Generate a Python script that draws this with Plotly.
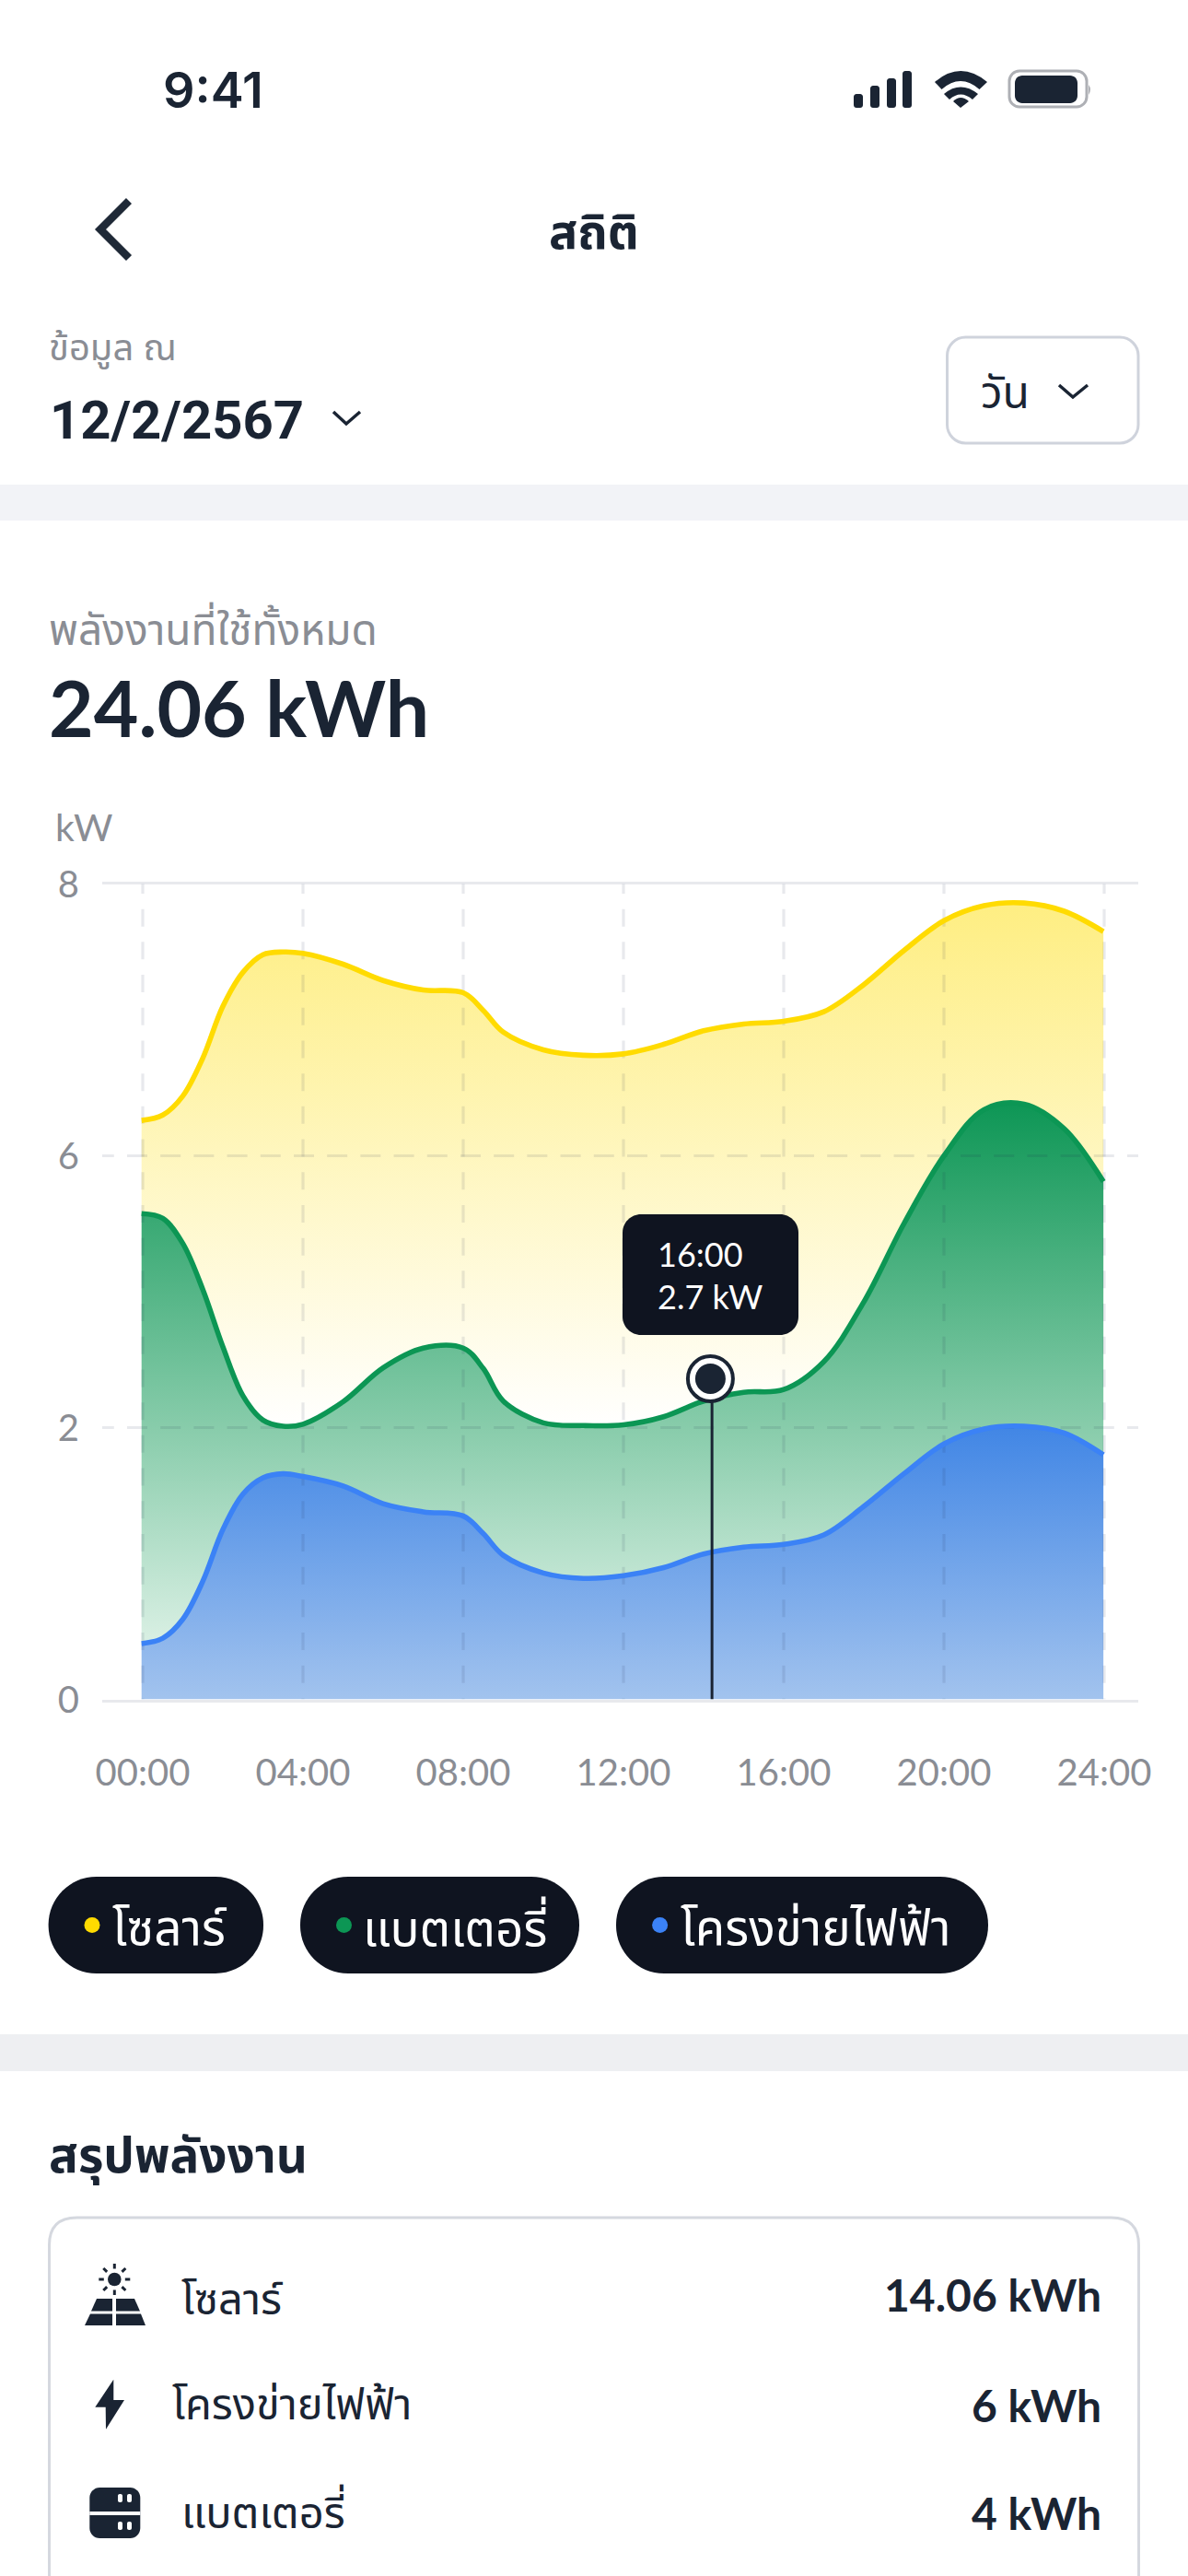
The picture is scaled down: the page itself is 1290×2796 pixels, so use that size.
import numpy as np
import plotly.graph_objects as go

W, H = 1290, 2796
FONT = "Lato, 'Noto Sans Thai', 'Noto Sans', sans-serif"
DARK = "#1A2433"
GRAY = "#8A8D94"
PILL = "#0F1420"
GRID = "rgba(26,36,80,0.1)"

hours = [-0.03, 0.5, 1, 1.5, 2, 2.5, 3, 3.5, 4, 5, 6, 7, 8, 8.5, 9, 10, 11, 12, 13, 14, 15, 16,
         17, 18, 19, 20, 21, 22, 23, 23.98]
solar = [6.26, 6.30, 6.44, 6.72, 7.10, 7.35, 7.48, 7.50, 7.49, 7.41, 7.29, 7.22, 7.20, 7.07,
         6.91, 6.78, 6.74, 6.75, 6.82, 6.92, 6.97, 6.99, 7.06, 7.26, 7.51, 7.73, 7.84, 7.86,
         7.80, 7.65]
battery = [5.15, 5.08, 4.71, 4.03, 3.19, 2.47, 2.11, 2.02, 2.05, 2.38, 2.88, 3.17, 3.17, 2.87,
           2.39, 2.07, 2.03, 2.04, 2.16, 2.39, 2.52, 2.56, 2.97, 3.85, 5.00, 6.00, 6.34, 6.38,
           6.20, 5.62]
grid_power = [0.41, 0.45, 0.59, 0.87, 1.25, 1.51, 1.63, 1.66, 1.64, 1.57, 1.44, 1.38, 1.35, 1.22,
              1.06, 0.93, 0.89, 0.91, 0.97, 1.07, 1.12, 1.14, 1.21, 1.42, 1.66, 1.88, 1.99, 2.02,
              1.96, 1.80]

x_ticks = [0, 4, 8, 12, 16, 20, 24]
x_labels = ["00:00", "04:00", "08:00", "12:00", "16:00", "20:00", "24:00"]
# the y axis is not linear: its labels are evenly spaced
y_ticks = [0, 2, 6, 8]
y_positions = [0, 1, 2, 3]

tooltip_hour = 14.17
tooltip_value = 2.72
tooltip_time = "16:00"
tooltip_label = "2.7 kW"

legend_names = ["โซลาร์", "แบตเตอรี่", "โครงข่ายไฟฟ้า"]
summary_names = ["โซลาร์", "โครงข่ายไฟฟ้า", "แบตเตอรี่"]
summary_values = ["14.06 kWh", "6 kWh", "4 kWh"]

YELLOW, GREEN, BLUE = "#FFDB00", "#0C9654", "#3B82F6"


def ypos(kw):
    return np.interp(kw, y_ticks, y_positions)


def fx(x):
    return x / W


def fy(y):
    return 1 - y / H


def pts(cmds):
    # cmds are (letter, x, y, x, y...) in screen pixels, turned into paper fractions
    out = []
    for c in cmds:
        nums = c[1:]
        pairs = [f"{fx(nums[i]):.5f},{fy(nums[i + 1]):.5f}" for i in range(0, len(nums), 2)]
        out.append(c[0] + " ".join(pairs))
    return " ".join(out)


def rrect(x0, y0, x1, y1, r, open_bottom=False):
    if open_bottom:
        return pts([("M", x0, y1), ("L", x0, y0 + r), ("Q", x0, y0, x0 + r, y0), ("L", x1 - r, y0),
                    ("Q", x1, y0, x1, y0 + r), ("L", x1, y1)])
    k = 0.45 * r
    return pts([("M", x0 + r, y0), ("L", x1 - r, y0), ("C", x1 - k, y0, x1, y0 + k, x1, y0 + r),
                ("L", x1, y1 - r), ("C", x1, y1 - k, x1 - k, y1, x1 - r, y1), ("L", x0 + r, y1),
                ("C", x0 + k, y1, x0, y1 - k, x0, y1 - r), ("L", x0, y0 + r),
                ("C", x0, y0 + k, x0 + k, y0, x0 + r, y0)]) + " Z"


shapes = []
annotations = []


def solid(path, color=DARK):
    shapes.append(dict(type="path", path=path, xref="paper", yref="paper", fillcolor=color,
                       line=dict(width=0), layer="above"))


def stroke(path, color=DARK, width=3, fill="rgba(0,0,0,0)"):
    shapes.append(dict(type="path", path=path, xref="paper", yref="paper", fillcolor=fill,
                       line=dict(color=color, width=width), layer="above"))


def label(text, x, y, size, color=DARK, anchor="left", weight=400, family=FONT):
    annotations.append(dict(text=text, x=fx(x), y=fy(y), xref="paper", yref="paper", xanchor=anchor,
                            yanchor="middle", showarrow=False,
                            font=dict(family=family, size=size, color=color, weight=weight)))


fig = go.Figure()

# fills first, then the grid over them, then the lines
fills = [
    (grid_power, "tozeroy", 2.02, 0, "#4186E5", "#A2C3EE"),
    (battery, "tonexty", 6.4, 0.4, "#0D9655", "#DAF0E4"),
    (solar, "tonexty", 7.86, 2.0, "#FEEE82", "#FFFFFF"),
]
for values, mode, top, bottom, c0, c1 in fills:
    fig.add_trace(go.Scatter(
        x=hours, y=ypos(values), mode="lines", fill=mode, hoverinfo="skip",
        line=dict(width=0, shape="spline", smoothing=1.0),
        fillgradient=dict(type="vertical", start=float(ypos(top)), stop=float(ypos(bottom)),
                          colorscale=[[0, c0], [1, c1]]),
    ))

grid_x, grid_y = [], []
for t in x_ticks:
    grid_x += [t, t, None]
    grid_y += [3.029, 0, None]
fig.add_trace(go.Scatter(x=grid_x, y=grid_y, mode="lines", hoverinfo="skip",
                         line=dict(color=GRID, width=3.2, dash="19px,16.7px")))
grid_x, grid_y = [], []
for p in [1, 2]:
    grid_x += [25.08, -2, None]
    grid_y += [p, p, None]
fig.add_trace(go.Scatter(x=grid_x, y=grid_y, mode="lines", hoverinfo="skip",
                         line=dict(color=GRID, width=3, dash="22px,14.2px")))

for values, color in [(solar, YELLOW), (battery, GREEN), (grid_power, BLUE)]:
    fig.add_trace(go.Scatter(x=hours, y=ypos(values), mode="lines", hoverinfo="skip",
                             line=dict(color=color, width=5.6, shape="spline", smoothing=1.0)))

fig.add_trace(go.Scatter(x=[tooltip_hour + 0.04] * 2, y=[0, ypos(tooltip_value)], mode="lines",
                         hoverinfo="skip", line=dict(color=DARK, width=3)))
fig.add_trace(go.Scatter(x=[tooltip_hour], y=[ypos(tooltip_value)], mode="markers", hoverinfo="skip",
                         marker=dict(size=49, color="white", line=dict(color=DARK, width=4))))
fig.add_trace(go.Scatter(x=[tooltip_hour], y=[ypos(tooltip_value)], mode="markers", hoverinfo="skip",
                         marker=dict(size=33, color=DARK)))

# tooltip
solid(rrect(676, 1318, 867, 1449, 20), PILL)
label(tooltip_time, 712, 1361, 36, "white")
label(tooltip_label, 712, 1407, 36, "white")

# status bar
label("9:41", 175, 97, 54, DARK, weight=600, family="Inter")
for x0, y0 in [(927, 102), (945, 93), (963, 85), (980, 77)]:
    solid(rrect(x0, y0, x0 + 10, 117, 3))
solid(pts([("M", 1015, 89), ("Q", 1043, 65, 1072, 89), ("L", 1063.5, 97), ("Q", 1043, 79, 1022.5, 97)]) + " Z")
solid(pts([("M", 1025, 102), ("Q", 1043, 87, 1062, 102), ("L", 1056, 108), ("Q", 1043, 97, 1031, 108)]) + " Z")
solid(pts([("M", 1035, 110), ("Q", 1043, 102, 1052, 110), ("L", 1043, 117)]) + " Z")
stroke(rrect(1096, 77, 1180, 116, 11), "#AEB0B5", 3)
solid(rrect(1102, 82, 1170, 112, 8))
solid(pts([("M", 1182, 92), ("Q", 1186, 97, 1182, 103)]) + " Z", "#AEB0B5")

# header
stroke(pts([("M", 140, 218), ("L", 109, 249), ("L", 140, 280)]), "#1F2937", 8.5)
label("สถิติ", 645, 250, 52, DARK, "center", 700)
label("ข้อมูล ณ", 51, 377, 40, GRAY)
label("12/2/2567", 52, 456, 58, DARK, weight=700, family="Roboto")
stroke(pts([("M", 362, 447), ("L", 376, 460), ("L", 391, 447)]), DARK, 3.5)
stroke(rrect(1028.5, 366, 1236, 481, 20), "#CFD3DC", 3)
label("วัน", 1063, 425, 48)
stroke(pts([("M", 1150, 418), ("L", 1165, 431), ("L", 1181, 418)]), DARK, 3.5)

# section bands
solid(pts([("M", 0, 526), ("L", W, 526), ("L", W, 565), ("L", 0, 565)]) + " Z", "#F2F3F7")
solid(pts([("M", 0, 2208), ("L", W, 2208), ("L", W, 2248), ("L", 0, 2248)]) + " Z", "#EEEFF2")

label("พลังงานที่ใช้ทั้งหมด", 51, 682, 46, GRAY)
label("24.06 kWh", 51, 767, 84, DARK, weight=700)
label("kW", 58, 898, 41, GRAY)

# legend pills
pill_boxes = [(52.6, 286), (326, 629), (669, 1073)]
for (x0, x1), name, color, dot_x, text_x in zip(pill_boxes, legend_names, [YELLOW, GREEN, BLUE],
                                                [100, 373.5, 716.6], [120, 392, 737]):
    solid(rrect(x0, 2037, x1, 2142, 52), PILL)
    shapes.append(dict(type="circle", xref="paper", yref="paper", x0=fx(dot_x - 8.5), x1=fx(dot_x + 8.5),
                       y0=fy(2098), y1=fy(2081), fillcolor=color, line=dict(width=0), layer="above"))
    label(name, text_x, 2090, 53, "white")

# summary
label("สรุปพลังงาน", 51, 2339, 53, DARK, weight=700)
stroke(rrect(53.5, 2407, 1236.5, 2830, 30, open_bottom=True), "#D5D8DF", 3)
for name, value, text_x, y, value_y in zip(summary_names, summary_values, [195, 185, 195],
                                           [2494, 2608, 2725], [2490, 2610, 2727]):
    label(name, text_x, y, 47, DARK)
    label(value, 1198, value_y, 48, DARK, "right", 700)

# solar icon
shapes.append(dict(type="circle", xref="paper", yref="paper", x0=fx(117), x1=fx(131.6),
                   y0=fy(2481.3), y1=fy(2466.7), fillcolor=DARK, line=dict(width=0), layer="above"))
for a in range(8):
    ca, sa = np.cos(a * np.pi / 4), np.sin(a * np.pi / 4)
    stroke(pts([("M", 124.3 + 11.5 * ca, 2474 + 11.5 * sa), ("L", 124.3 + 17 * ca, 2474 + 17 * sa)]), DARK, 3)
solid(pts([("M", 105, 2495), ("L", 122, 2495), ("L", 122, 2508.5), ("L", 99, 2508.5)]) + " Z")
solid(pts([("M", 126, 2495), ("L", 146, 2495), ("L", 152, 2508.5), ("L", 126, 2508.5)]) + " Z")
solid(pts([("M", 98, 2511.5), ("L", 122, 2511.5), ("L", 122, 2524), ("L", 92, 2524)]) + " Z")
solid(pts([("M", 126, 2511.5), ("L", 153, 2511.5), ("L", 158, 2524), ("L", 126, 2524)]) + " Z")

# bolt icon
solid(pts([("M", 123.3, 2582.7), ("L", 103.3, 2612.7), ("L", 114.7, 2612.7), ("L", 115, 2636.7),
           ("L", 135, 2605), ("L", 123.3, 2605)]) + " Z")

# battery icon
solid(rrect(97.3, 2700, 152.3, 2755, 11))
solid(pts([("M", 97.3, 2726), ("L", 152.3, 2726), ("L", 152.3, 2730), ("L", 97.3, 2730)]) + " Z", "white")
for y0, y1 in [(2707, 2716), (2737, 2746)]:
    for x0 in [128, 138]:
        solid(rrect(x0, y0, x0 + 5, y1, 2), "white")

fig.update_xaxes(
    domain=[fx(111), fx(1236)],
    range=[(111 - 155) / 43.5, (1236 - 155) / 43.5],
    tickmode="array", tickvals=x_ticks, ticktext=x_labels,
    showgrid=False, zeroline=False,
    showline=True, mirror=True, linecolor=GRID, linewidth=3,
    ticks="", ticklabelstandoff=42,
    tickfont=dict(family=FONT, size=40, color=GRAY),
)
fig.update_yaxes(
    domain=[fy(1844.5), fy(959.5)],
    range=[0, 3],
    tickmode="array", tickvals=y_positions, ticktext=[str(v) for v in y_ticks],
    showgrid=False, zeroline=False, showline=False,
    ticks="", ticklabelstandoff=24,
    tickfont=dict(family=FONT, size=40, color=GRAY),
)
fig.update_layout(
    width=W, height=H,
    margin=dict(l=0, r=0, t=0, b=0, autoexpand=False),
    paper_bgcolor="white", plot_bgcolor="rgba(0,0,0,0)",
    showlegend=False, hovermode=False,
    font=dict(family=FONT),
    shapes=shapes, annotations=annotations,
)

fig.write_html("out.html", config=dict(displayModeBar=False),
               post_script="document.body.style.margin='0';")
